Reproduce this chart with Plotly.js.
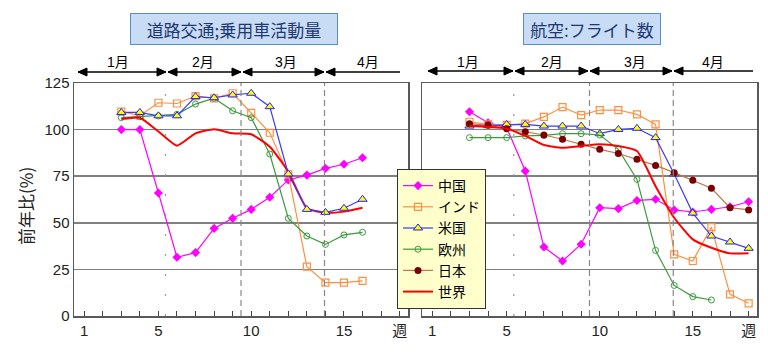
<!DOCTYPE html>
<html>
<head>
<meta charset="utf-8">
<script src="https://cdn.plot.ly/plotly-3.0.1.min.js"></script>
<style>html,body{margin:0;padding:0;background:#fff;}#chart{width:768px;height:359px;}</style>
</head>
<body>
<div id="chart"></div>
<script>
// ---- data ----
const weeksL = [3,4,5,6,7,8,9,10,11,12,13,14,15,16];
const roadChina = [100, 100, 66, 31.5, 34, 47, 52.4, 57.2, 63.7, 73, 75.6, 79.2, 81.4, 84.9];
const roadIndia = [109.6, 107.5, 114.4, 114, 118, 116.8, 119.5, 109, 98.3, 76, 26.5, 17.9, 17.9, 18.8];
const roadUSA   = [109.2, 109.2, 107.4, 107.4, 117.7, 117.1, 118.6, 119.5, 112.3, 76.2, 57.2, 55.6, 57.8, 62.6];
const roadEU    = [106.4, 106.9, 107.3, 108.2, 113.7, 116.8, 110.1, 106.4, 86.9, 52.4, 42.9, 38.4, 43.5, 44.9];
const roadWorld = [105.7, 106.4, 99, 91.4, 98, 100.2, 98, 97.5, 90.8, 77.4, 57.8, 55.4, 56, 58.1];

const weeksR = [3,4,5,6,7,8,9,10,11,12,13,14,15,16,17,18];
const weeksREU = [3,4,5,6,7,8,9,10,11,12,13,14,15,16];
const airChina = [109.6, 103.7, 101, 77.8, 37, 29.5, 38.5, 58.1, 57.6, 62, 62.6, 56.9, 55.8, 57.2, 58.6, 61.3];
const airIndia = [104.2, 102.8, 102.5, 103.2, 106.8, 112.1, 107.8, 110.5, 110.5, 108.2, 102.8, 33.1, 29.5, 47.7, 11.6, 6.8];
const airUSA   = [101.9, 102.3, 102.8, 102.8, 101.9, 101.9, 101.9, 97.8, 100.1, 100.7, 95.7, 76.2, 55.2, 42.9, 39.7, 36.3];
const airEU    = [95.7, 95.7, 95.7, 96.6, 96.9, 97.8, 97.8, 97.1, 89.4, 73.3, 35.2, 16.4, 10.4, 8.6];
const airJapan = [103.2, 102.3, 100.5, 98.9, 97.1, 94.8, 92.1, 89.4, 87.2, 84.1, 80.8, 76.9, 72.8, 68.5, 58.1, 56.9];
const airWorld = [101.9, 101.4, 100.5, 96.6, 91.7, 90.3, 91.2, 92.1, 91.2, 88.5, 69.6, 52.7, 41.1, 36.6, 33.6, 33.6];

const names = ['中国','インド','米国','欧州','日本','世界'];
const xTickVals = [1,2,3,4,5,6,7,8,9,10,11,12,13,14,15,16,17,18];
const xTickText = ['1','','','','5','','','','','10','','','','','15','','','週'];
const yTickVals = [0,25,50,75,100,125];
const monthLabels = ['1月','2月','3月','4月'];
const panelTitles = ['道路交通;乗用車活動量','航空:フライト数'];
const monthBounds = [5.38, 9.45, 13.95];

// ---- styles ----
const st = {
  '中国': {line:{color:'#ff00ff',width:1.2}, marker:{symbol:'diamond',size:7,color:'#ff00ff'}},
  'インド': {line:{color:'#ff8f40',width:1.2}, marker:{symbol:'square-open',size:7,color:'#ff8f40',line:{width:1.2}}},
  '米国': {line:{color:'#3a3aff',width:1.2}, marker:{symbol:'triangle-up',size:8,color:'#ffff00',line:{color:'#2020ff',width:1}}},
  '欧州': {line:{color:'#3c9a3c',width:1.2}, marker:{symbol:'circle-open',size:6,color:'#3c9a3c',line:{width:1}}},
  '日本': {line:{color:'#b87850',width:1.2}, marker:{symbol:'circle',size:7,color:'#7a0000'}},
  '世界': {line:{color:'#ff0000',width:2,shape:'spline',smoothing:0.5}, marker:{}}
};
function tr(name, x, y, xa, ya, legend){
  const s = st[name];
  const t = {type:'scatter', x:x, y:y, name:name, xaxis:xa, yaxis:ya, showlegend:legend,
    line:s.line, hoverinfo:'skip'};
  if(name==='世界'){ t.mode='lines'; } else { t.mode='lines+markers'; t.marker=s.marker; }
  return t;
}
const data = [
  tr('中国', weeksL, roadChina, 'x','y', false),
  tr('インド', weeksL, roadIndia, 'x','y', false),
  tr('欧州', weeksL, roadEU, 'x','y', false),
  tr('世界', weeksL, roadWorld, 'x','y', false),
  tr('米国', weeksL, roadUSA, 'x','y', false),
  tr('中国', weeksR, airChina, 'x2','y2', true),
  tr('インド', weeksR, airIndia, 'x2','y2', true),
  tr('米国', weeksR, airUSA, 'x2','y2', true),
  tr('欧州', weeksREU, airEU, 'x2','y2', true),
  tr('日本', weeksR, airJapan, 'x2','y2', true),
  tr('世界', weeksR, airWorld, 'x2','y2', true)
];
const order = {'中国':1,'インド':2,'米国':3,'欧州':4,'日本':5,'世界':6};
data.forEach(d=>{ d.legendrank = order[d.name]; });

const W=768, H=359;
const px = x => x/W, py = y => 1 - y/H;

const numFont = 'Liberation Sans, Arial, sans-serif';
const cjkFont = 'Noto Sans CJK JP, sans-serif';

function xaxisDef(domain, anchor){
  return {domain:domain, anchor:anchor, range:[0.45,18.45], tickmode:'array', tickvals:xTickVals, ticktext:xTickText,
    ticks:'inside', ticklen:5, tickwidth:1, tickcolor:'#444', showgrid:false, zeroline:false,
    showline:true, mirror:true, linecolor:'#5a5a5a', linewidth:1.5,
    tickfont:{family:numFont+', '+cjkFont, size:15, color:'#222'}, fixedrange:true};
}
function yaxisDef(anchor, labels){
  return {domain:[py(316), py(83)], anchor:anchor, range:[0,125], tickmode:'array', tickvals:yTickVals,
    showticklabels:labels, ticks:'', showgrid:true, gridcolor:'#808080', gridwidth:1.5, zeroline:false,
    showline:true, mirror:true, linecolor:'#5a5a5a', linewidth:1.5,
    tickfont:{family:numFont, size:15, color:'#222'}, fixedrange:true};
}

const shapes = [];
const annotations = [];
['x','x2'].forEach((xa,i)=>{
  const ya = i===0?'y':'y2';
  shapes.push({type:'line', xref:xa, yref:ya, x0:monthBounds[0], x1:monthBounds[0], y0:0, y1:125,
    line:{color:'#999', width:1.2, dash:'2px,18px'}});
  shapes.push({type:'line', xref:xa, yref:ya, x0:monthBounds[1], x1:monthBounds[1], y0:0, y1:125,
    line:{color:'#888', width:1.2, dash:'6px,4px'}});
  shapes.push({type:'line', xref:xa, yref:ya, x0:monthBounds[2], x1:monthBounds[2], y0:0, y1:125,
    line:{color:'#888', width:1.2, dash:'6px,4px'}});
});

function arrowHead(x, y, dir){
  const L=9, hw=4;
  const xb = x - dir*L;
  return {type:'path', xref:'paper', yref:'paper',
    path:`M ${px(x)} ${py(y)} L ${px(xb)} ${py(y-hw)} L ${px(xb)} ${py(y+hw)} Z`,
    fillcolor:'#000', line:{color:'#000', width:1}};
}
function arrowSeg(x0, x1, y, right){
  shapes.push({type:'line', xref:'paper', yref:'paper', x0:px(x0), x1:px(x1), y0:py(y), y1:py(y), line:{color:'#000', width:1.3}});
  shapes.push(arrowHead(x0, y, -1));
  if(right) shapes.push(arrowHead(x1, y, 1));
}
const segL = [[78,166,true],[168,241,true],[243,324,true],[326,400,false]];
const segR = [[428,513,true],[515,588,true],[590,672,true],[674,753,false]];
const labL = [118,203,286,368];
const labR = [468,552,635,713];
segL.forEach(s=>arrowSeg(s[0],s[1],72,s[2]));
segR.forEach(s=>arrowSeg(s[0],s[1],71,s[2]));
monthLabels.forEach((m,i)=>{
  annotations.push({xref:'paper', yref:'paper', x:px(labL[i]), y:py(62), text:m, showarrow:false,
    font:{family:numFont+', '+cjkFont, size:14, color:'#000'}, xanchor:'center', yanchor:'middle'});
  annotations.push({xref:'paper', yref:'paper', x:px(labR[i]), y:py(62), text:m, showarrow:false,
    font:{family:numFont+', '+cjkFont, size:14, color:'#000'}, xanchor:'center', yanchor:'middle'});
});

annotations.push({xref:'paper', yref:'paper', x:px(234), y:py(28.5), text:panelTitles[0], showarrow:false,
  font:{family:cjkFont, size:17, color:'#1f3870'}, bgcolor:'#c8dcf5', bordercolor:'#5b8bd3', borderwidth:1,
  borderpad:2, width:202, height:26, xanchor:'center', yanchor:'middle'});
annotations.push({xref:'paper', yref:'paper', x:px(592), y:py(28.5), text:panelTitles[1], showarrow:false,
  font:{family:cjkFont, size:17, color:'#1f3870'}, bgcolor:'#c8dcf5', bordercolor:'#5b8bd3', borderwidth:1,
  borderpad:2, width:132, height:26, xanchor:'center', yanchor:'middle'});

annotations.push({xref:'paper', yref:'paper', x:px(25), y:py(206), text:'前年比(%)', showarrow:false, textangle:-90,
  font:{family:cjkFont, size:17, color:'#222'}, xanchor:'center', yanchor:'middle'});

const layout = {
  width:W, height:H, margin:{l:0,r:0,t:0,b:0}, paper_bgcolor:'#fff', plot_bgcolor:'#fff',
  xaxis: xaxisDef([px(74), px(408)], 'y'),
  yaxis: yaxisDef('x', true),
  xaxis2: xaxisDef([px(422), px(757)], 'y2'),
  yaxis2: yaxisDef('x2', false),
  showlegend:true,
  legend:{x:px(397), y:py(169), xanchor:'left', yanchor:'top', bgcolor:'#ffffcc', bordercolor:'#333', borderwidth:1,
    font:{family:cjkFont, size:14, color:'#000'}, tracegroupgap:0, itemwidth:30, traceorder:'normal'},
  shapes:shapes, annotations:annotations
};
Plotly.newPlot('chart', data, layout, {staticPlot:true, displayModeBar:false});
</script>
</body>
</html>
